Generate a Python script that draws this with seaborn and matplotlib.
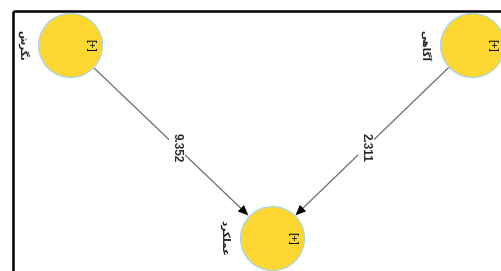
import matplotlib
matplotlib.use('Agg')
import matplotlib.pyplot as plt
import seaborn as sns
import pandas as pd

# 节点与路径数据
node_names = ['نگرش', 'آگاهی', 'عملکرد']
# 旋转后显示用的字形（阿拉伯字母的连写形式，按视觉顺序）
node_display = ['\uFEB5\uFEAE\uFB95\uFEE7',
                '\uFBFD\uFEEB\uFE8E\uFB94\uFE81',
                '\uFEA9\uFEAE\uFB91\uFEE0\uFEE4\uFECB']
node_x = [70, 472, 272]
node_y = [45, 45, 238]
edge_from = ['نگرش', 'آگاهی']
edge_to = ['عملکرد', 'عملکرد']
edge_weight = ['9.352', '2.311']

nodes = pd.DataFrame({'name': node_names, 'label': node_display, 'x': node_x, 'y': node_y})
pos = nodes.set_index('name')

sns.set_style('white')
plt.rcParams['font.family'] = ['DejaVu Sans']

fig = plt.figure(figsize=(5.01, 2.71), dpi=100)
ax = fig.add_axes([0, 0, 1, 1])
ax.set_xlim(0, 501)
ax.set_ylim(271, 0)
ax.axis('off')

# 外框（只有上边和左边可见）
ax.plot([13, 501], [10.5, 10.5], color='black', lw=1.8, solid_capstyle='butt', zorder=1)
ax.plot([13, 13], [10.5, 271], color='black', lw=1.8, solid_capstyle='butt', zorder=1)

# 路径
for a, b, w in zip(edge_from, edge_to, edge_weight):
    x0, y0 = pos.loc[a, 'x'], pos.loc[a, 'y']
    x1, y1 = pos.loc[b, 'x'], pos.loc[b, 'y']
    ax.annotate('', xy=(x1, y1), xytext=(x0, y0),
                arrowprops=dict(arrowstyle='-', color='#6b6b6b', lw=0.9,
                                shrinkA=23, shrinkB=26), zorder=2)
    ax.annotate('', xy=(x1, y1), xytext=(x0, y0),
                arrowprops=dict(arrowstyle='-|>,head_length=0.75,head_width=0.32',
                                color='black', lw=0, mutation_scale=10,
                                shrinkA=23, shrinkB=23.5), zorder=3)
    t = 0.53
    ax.text(x0 + (x1 - x0) * t, y0 + (y1 - y0) * t, w, rotation=-90,
            ha='center', va='center', fontsize=8.5, fontweight='bold',
            family=['Liberation Sans', 'DejaVu Sans'],
            bbox=dict(boxstyle='square,pad=0.2', fc='white', ec='none'), zorder=4)

# 节点
sns.scatterplot(data=nodes, x='x', y='y', s=2123, color='#fcd732',
                edgecolor='#a9d7ee', linewidth=0.9, ax=ax, zorder=5, legend=False)
ax.set_xlim(0, 501)
ax.set_ylim(271, 0)

for _, r in nodes.iterrows():
    ax.annotate(r['label'], (r['x'], r['y']), xytext=(-34, 0), textcoords='offset points',
                rotation=-90, ha='center', va='center', fontsize=7.5, fontweight='bold',
                color='#222222', zorder=6)
    ax.annotate('[+]', (r['x'], r['y']), xytext=(14.5, 0), textcoords='offset points',
                rotation=-90, ha='center', va='center', fontsize=8,
                family=['Liberation Sans'], color='black', zorder=6)

plt.savefig('out.png', dpi=100)
plt.close()
